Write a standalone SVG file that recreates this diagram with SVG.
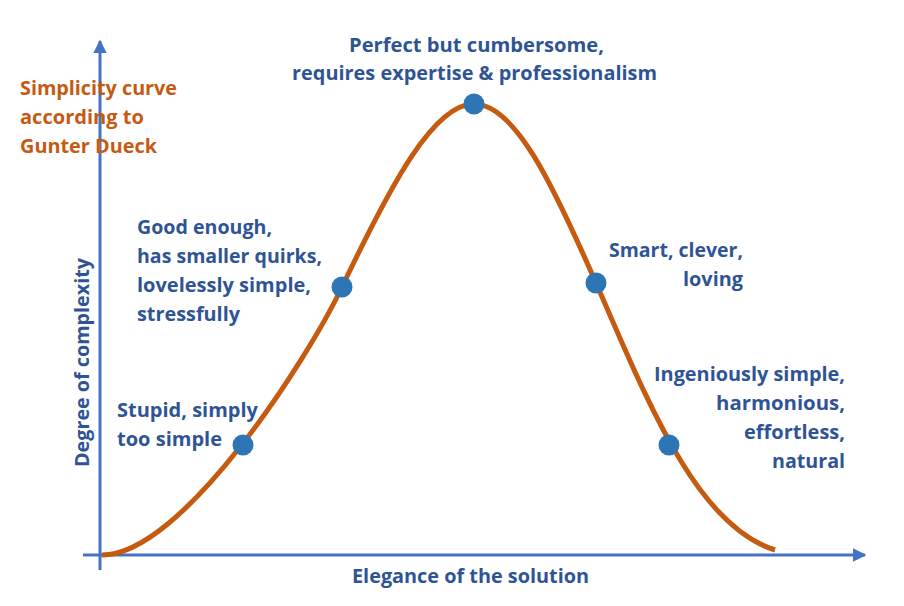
<svg xmlns="http://www.w3.org/2000/svg" width="904" height="606" viewBox="0 0 904 606">
<defs>
<style>
.t{font-family:"Open Sans",Lato,"Liberation Sans",sans-serif;font-weight:bold;font-size:19.5px;fill:#2F5496}
.o{fill:#C55A11}
.axis{stroke:#4472C4;stroke-width:3;fill:none}
.curve{stroke:#C55A11;stroke-width:5;fill:none}
.dot{fill:#2E75B6}
</style>
<marker id="arr" viewBox="0 0 10 10" refX="9" refY="5" markerWidth="4.5" markerHeight="4.5" orient="auto" markerUnits="strokeWidth">
<path d="M0,0 L10,5 L0,10 z" fill="#4472C4"/>
</marker>
</defs>
<rect width="904" height="606" fill="#ffffff"/>
<g id="connectors">
<line class="axis" x1="100" y1="570" x2="100" y2="41" marker-end="url(#arr)"/>
<line class="axis" x1="83" y1="555" x2="865" y2="555" marker-end="url(#arr)"/>
<path id="curve" class="curve" d="M102,555 C182,555 307,360.5 342,287 C392,182 434,104 474,104 C514,104 551,180 596,283 C646,397 695,525 775,550"/>
</g>
<g id="title">
<text class="t o" x="20" y="95" textLength="157" lengthAdjust="spacingAndGlyphs">Simplicity curve</text>
<text class="t o" x="20" y="124" textLength="124" lengthAdjust="spacingAndGlyphs">according to</text>
<text class="t o" x="20" y="153" textLength="137" lengthAdjust="spacingAndGlyphs">Gunter Dueck</text>
</g>
<g id="node-peak">
<circle class="dot" cx="474" cy="104" r="10.5"/>
<text class="t" x="349" y="52" textLength="255" lengthAdjust="spacingAndGlyphs">Perfect but cumbersome,</text>
<text class="t" x="292" y="80" textLength="365" lengthAdjust="spacingAndGlyphs">requires expertise &amp; professionalism</text>
</g>
<g id="node-good">
<circle class="dot" cx="342" cy="287" r="10.5"/>
<text class="t" x="137" y="234" textLength="135" lengthAdjust="spacingAndGlyphs">Good enough,</text>
<text class="t" x="137" y="263" textLength="185" lengthAdjust="spacingAndGlyphs">has smaller quirks,</text>
<text class="t" x="137" y="292" textLength="174" lengthAdjust="spacingAndGlyphs">lovelessly simple,</text>
<text class="t" x="137" y="321" textLength="103" lengthAdjust="spacingAndGlyphs">stressfully</text>
</g>
<g id="node-smart">
<circle class="dot" cx="596" cy="283" r="10.5"/>
<text class="t" x="609" y="257" textLength="134" lengthAdjust="spacingAndGlyphs">Smart, clever,</text>
<text class="t" x="683" y="286" textLength="60" lengthAdjust="spacingAndGlyphs">loving</text>
</g>
<g id="node-stupid">
<circle class="dot" cx="243" cy="445" r="10.5"/>
<text class="t" x="117" y="417" textLength="141" lengthAdjust="spacingAndGlyphs">Stupid, simply</text>
<text class="t" x="117" y="446" textLength="105" lengthAdjust="spacingAndGlyphs">too simple</text>
</g>
<g id="node-ingenious">
<circle class="dot" cx="669" cy="445" r="10.5"/>
<text class="t" x="654" y="381" textLength="191" lengthAdjust="spacingAndGlyphs">Ingeniously simple,</text>
<text class="t" x="716" y="410" textLength="129" lengthAdjust="spacingAndGlyphs">harmonious,</text>
<text class="t" x="744" y="439" textLength="101" lengthAdjust="spacingAndGlyphs">effortless,</text>
<text class="t" x="772" y="468" textLength="73" lengthAdjust="spacingAndGlyphs">natural</text>
</g>
<g id="axis-labels">
<text class="t" x="352" y="583" textLength="237" lengthAdjust="spacingAndGlyphs">Elegance of the solution</text>
<text class="t" x="0" y="0" textLength="209" lengthAdjust="spacingAndGlyphs" transform="translate(89,467) rotate(-90)">Degree of complexity</text>
</g>
</svg>
